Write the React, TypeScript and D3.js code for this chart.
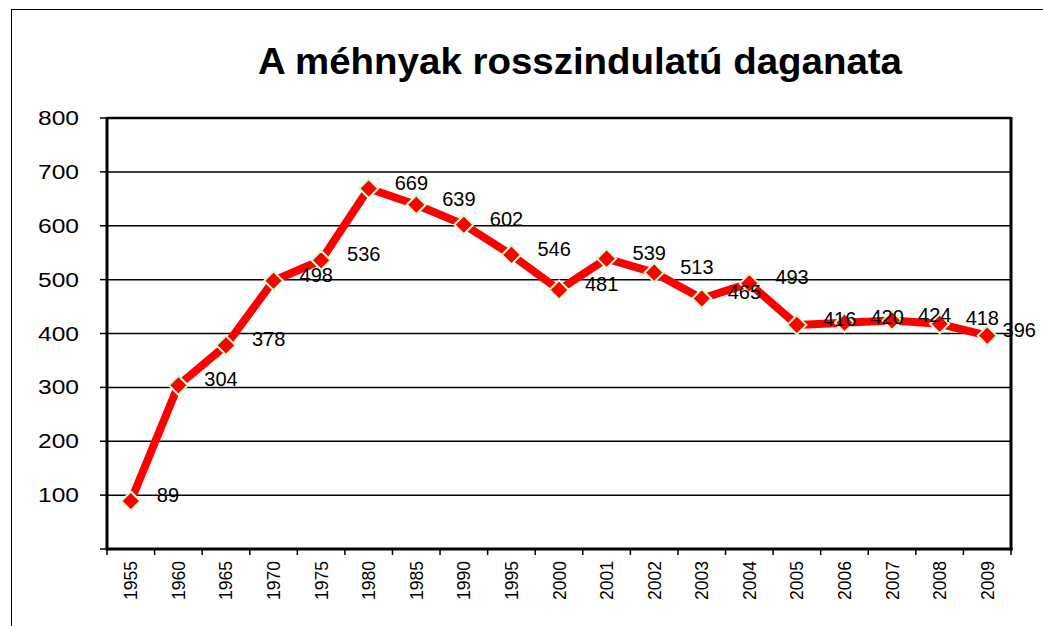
import React from "react";
import * as d3 from "d3";

const title = "A méhnyak rosszindulatú daganata";
const years = ["1955","1960","1965","1970","1975","1980","1985","1990","1995","2000","2001","2002","2003","2004","2005","2006","2007","2008","2009"];
const values = [89, 304, 378, 498, 536, 669, 639, 602, 546, 481, 539, 513, 465, 493, 416, 420, 424, 418, 396];
const yTicks = [0, 100, 200, 300, 400, 500, 600, 700, 800];

const W = 1043, H = 626;
const left = 107, right = 1011, top = 118, bottom = 549;
const font = "'Liberation Sans', Arial, sans-serif";

export default function App() {
  const x = d3.scaleBand<string>().domain(years).range([left, right]).padding(0);
  const y = d3.scaleLinear().domain([0, 800]).range([bottom, top]);
  const cx = (d: string) => (x(d) as number) + x.bandwidth() / 2;
  const line = d3.line<number>().x((_, i) => cx(years[i])).y((v) => y(v));
  const boundaries = years.map((d) => x(d) as number).concat([right]);
  const diamond = d3.symbol().type(d3.symbolDiamond2 ?? d3.symbolDiamond).size(230)();
  const labelW = 33.4;

  return (
    <svg width={W} height={H} style={{ position: "absolute", left: 0, top: 0, background: "#fff" }}>
      <rect x={11.5} y={9.5} width={1200} height={800} fill="#fff" stroke="#000" strokeWidth={1} />
      <text x={580} y={74} textAnchor="middle" fontFamily={font} fontWeight="bold" fontSize={37}
        textLength={644} lengthAdjust="spacingAndGlyphs">{title}</text>

      {yTicks.filter((t) => t > 0).map((t) => (
        <line key={"g" + t} x1={left} x2={right} y1={y(t)} y2={y(t)} stroke="#000" strokeWidth={t === 800 ? 2.5 : 1.5} />
      ))}
      {yTicks.map((t) => (
        <line key={"yt" + t} x1={100} x2={left} y1={y(t)} y2={y(t)} stroke="#000" strokeWidth={1.5} />
      ))}
      {yTicks.filter((t) => t > 0).map((t) => (
        <text key={"yl" + t} x={79} y={y(t) + 7} textAnchor="end" fontFamily={font} fontSize={20}
          textLength={41} lengthAdjust="spacingAndGlyphs">{t}</text>
      ))}
      {boundaries.map((b, i) => (
        <line key={"xt" + i} x1={b} x2={b} y1={bottom} y2={bottom + 6} stroke="#000" strokeWidth={1.5} />
      ))}
      {years.map((d) => (
        <text key={"xl" + d} transform={`translate(${cx(d) + 6.5},${600}) rotate(-90)`} fontFamily={font}
          fontSize={19} textLength={39} lengthAdjust="spacingAndGlyphs">{d}</text>
      ))}
      <line x1={left} x2={left} y1={top - 1} y2={bottom + 1.5} stroke="#000" strokeWidth={3} />
      <line x1={right} x2={right} y1={top - 1} y2={bottom + 1.5} stroke="#000" strokeWidth={3} />
      <line x1={left} x2={right + 1.5} y1={bottom} y2={bottom} stroke="#000" strokeWidth={3} />

      <path d={line(values) ?? ""} fill="none" stroke="#ff0000" strokeWidth={8} strokeLinejoin="round" />
      {values.map((v, i) => (
        <path key={"m" + i} d={diamond ?? ""} transform={`translate(${cx(years[i])},${y(v)})`}
          fill="#ff0000" stroke="#ccffcc" strokeWidth={2} />
      ))}
      {values.map((v, i) => (
        <text key={"dl" + i} x={Math.min(cx(years[i]) + 26, 1036 - labelW)} y={y(v) + 1}
          fontFamily={font} fontSize={20}>{v}</text>
      ))}
    </svg>
  );
}
